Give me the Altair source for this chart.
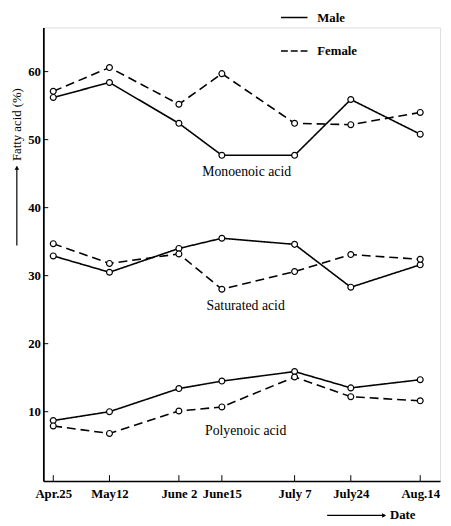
import altair as alt
import pandas as pd

# ---- data ----
date_labels = ["Apr.25", "May12", "June 2", "June15", "July 7", "July24", "Aug.14"]
day_numbers = [0, 17, 38, 51, 73, 90, 111]  # days after Apr. 25

mono_male = [56.2, 58.4, 52.4, 47.7, 47.7, 55.9, 50.8]
mono_female = [57.1, 60.6, 55.2, 59.7, 52.4, 52.2, 54.0]
sat_male = [32.9, 30.5, 34.0, 35.5, 34.6, 28.3, 31.6]
sat_female = [34.7, 31.8, 33.2, 28.0, 30.6, 33.1, 32.4]
poly_male = [8.7, 10.0, 13.4, 14.5, 15.9, 13.5, 14.7]
poly_female = [7.9, 6.8, 10.1, 10.7, 15.1, 12.2, 11.6]

acid_names = ["Monoenoic acid", "Saturated acid", "Polyenoic acid"]
sexes = ["Male", "Female"]
label_day = [58.5, 58.2, 58.2]
label_value = [45.3, 25.6, 7.2]
y_ticks = [10, 20, 30, 40, 50, 60]
y_title = "Fatty acid (%)"
x_title = "Date"

FONT = "Times New Roman, Liberation Serif, serif"

series = {
    "Monoenoic acid": (mono_male, mono_female),
    "Saturated acid": (sat_male, sat_female),
    "Polyenoic acid": (poly_male, poly_female),
}
rows = []
for acid in acid_names:
    for sex, vals in zip(sexes, series[acid]):
        for d, lab, v in zip(day_numbers, date_labels, vals):
            rows.append({"acid": acid, "sex": sex, "day": d, "label": lab, "value": v})
df = pd.DataFrame(rows)

label_expr = "".join(f"datum.value == {d} ? '{l}' : " for d, l in zip(day_numbers, date_labels)) + "''"

xscale = alt.Scale(domain=[-3, 117], nice=False, zero=False)
yscale = alt.Scale(domain=[-0.2, 66.5], nice=False, zero=False)
xaxis = alt.Axis(values=day_numbers, labelExpr=label_expr, title=None, grid=False,
                 ticks=False, tickSize=0, labelPadding=7, labelFont=FONT,
                 labelFontSize=13, labelFontWeight="bold", labelColor="black",
                 domainColor="black", domainWidth=1.5, labelOverlap=False)
yaxis = alt.Axis(values=y_ticks, title=None, grid=False, ticks=False, tickSize=0,
                 labelPadding=3, labelFont=FONT, labelFontSize=13,
                 labelFontWeight="bold", labelColor="black",
                 domainColor="black", domainWidth=1.8)


def X(field):
    return alt.X(field, scale=xscale, axis=xaxis)


def Y(field):
    return alt.Y(field, scale=yscale, axis=yaxis)


dash = alt.StrokeDash("sex:N", scale=alt.Scale(domain=sexes, range=[[1, 0], [9, 5]]), legend=None)

lines = alt.Chart(df).mark_line(color="black", strokeWidth=1.6).encode(
    x=X("day:Q"), y=Y("value:Q"), detail="acid:N", strokeDash=dash, order="day:Q"
)
points = alt.Chart(df).mark_point(shape="circle", filled=True, fill="white", stroke="black",
                                  strokeWidth=1.2, size=36, opacity=1).encode(
    x=X("day:Q"), y=Y("value:Q")
)

ann_df = pd.DataFrame({"acid": acid_names, "day": label_day, "value": label_value})
annotations = alt.Chart(ann_df).mark_text(font=FONT, fontSize=14, color="black",
                                          align="center", baseline="middle").encode(
    x=X("day:Q"), y=Y("value:Q"), text="acid:N"
)

ytick_df = pd.DataFrame({"tick": y_ticks})
yticks = alt.Chart(ytick_df).mark_rule(color="black", strokeWidth=1).encode(
    y=Y("tick:Q"), x=alt.value(0), x2=alt.value(5)
)
xtick_df = pd.DataFrame({"day": day_numbers})
xticks = alt.Chart(xtick_df).mark_rule(color="black", strokeWidth=1).encode(
    x=X("day:Q"), y=alt.value(462), y2=alt.value(456)
)

# y axis title with arrow
ytitle_df = pd.DataFrame({"t": [y_title]})
ytitle = alt.Chart(ytitle_df).mark_text(font=FONT, fontSize=13, angle=270, color="black",
                                        align="center", baseline="middle").encode(
    text="t:N", x=alt.value(-27), y=alt.value(99)
)
yarrow = alt.Chart(ytitle_df).mark_rule(color="black", strokeWidth=1.2).encode(
    x=alt.value(-27), y=alt.value(142), y2=alt.value(222)
)
yarrow_head = alt.Chart(ytitle_df).mark_point(shape="triangle-up", filled=True, color="black",
                                              size=22, opacity=1).encode(
    x=alt.value(-27), y=alt.value(143)
)

# x axis title with arrow
xtitle_df = pd.DataFrame({"t": [x_title]})
xtitle = alt.Chart(xtitle_df).mark_text(font=FONT, fontSize=13, fontWeight="bold", color="black",
                                        align="left", baseline="middle").encode(
    text="t:N", x=alt.value(353), y=alt.value(497)
)
xarrow = alt.Chart(xtitle_df).mark_rule(color="black", strokeWidth=1.2).encode(
    x=alt.value(289), x2=alt.value(348), y=alt.value(497)
)
xarrow_head = alt.Chart(xtitle_df).mark_point(shape="triangle-right", filled=True, color="black",
                                              size=22, opacity=1).encode(
    x=alt.value(347), y=alt.value(497)
)

# legend drawn by hand
legend_layers = []
for i, sex in enumerate(sexes):
    ly = -10 + 34 * i
    ldf = pd.DataFrame({"sex": [sex]})
    legend_layers.append(
        alt.Chart(ldf).mark_rule(color="black", strokeWidth=1.6,
                                 strokeDash=[1, 0] if i == 0 else [7, 3]).encode(
            x=alt.value(242), x2=alt.value(269), y=alt.value(ly)
        )
    )
    legend_layers.append(
        alt.Chart(ldf).mark_text(font=FONT, fontSize=13, fontWeight="bold", color="black",
                                 align="left", baseline="middle").encode(
            text="sex:N", x=alt.value(279), y=alt.value(ly)
        )
    )

chart = alt.layer(
    lines, points, annotations, yticks, xticks,
    ytitle, yarrow, yarrow_head, xtitle, xarrow, xarrow_head, *legend_layers
).properties(
    width=404, height=462,
    padding={"left": 36, "top": 15, "right": 3, "bottom": 41},
    autosize=alt.AutoSizeParams(type="none"),
).configure_view(stroke=None).configure(background="white")

chart.save("out.html", embed_options={"renderer": "svg", "actions": False})
